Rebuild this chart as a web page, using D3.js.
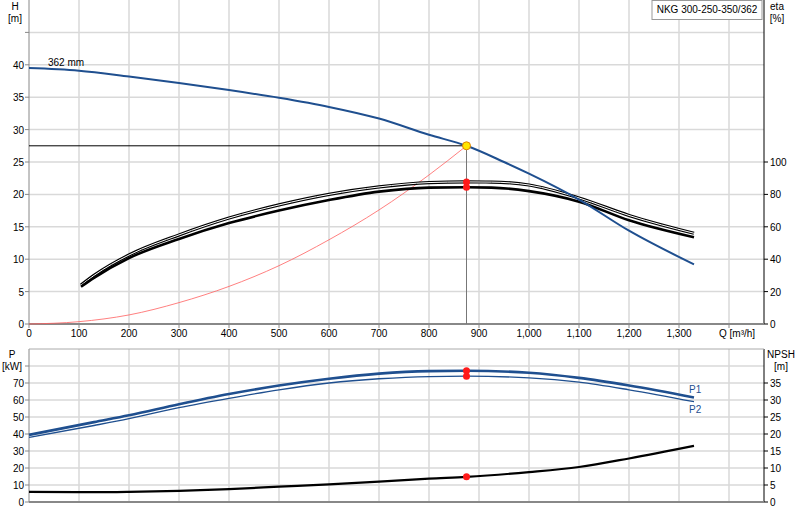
<!DOCTYPE html>
<html><head><meta charset="utf-8">
<script src="https://cdn.jsdelivr.net/npm/d3@7"></script>
<style>body{margin:0;background:#fff}text{font-family:"Liberation Sans",Arial,sans-serif;font-size:10px}</style>
</head><body><svg id="c" width="800" height="520"></svg>
<script>
// values
const headQ = [0, 100, 200, 300, 400, 500, 600, 700, 800, 875, 950, 1000, 1100, 1200, 1330];
const headH = [39.5, 39.1, 38.2, 37.2, 36.1, 34.9, 33.5, 31.7, 29.2, 27.5, 25.0, 23.2, 19.2, 14.4, 9.2];
const etaQ = [104, 130, 200, 300, 400, 500, 600, 700, 800, 875, 925, 1000, 1100, 1200, 1330];
const etaUpper = [24, 30, 42.6, 55, 65.4, 73.5, 80, 84.6, 87.3, 87.7, 87.6, 85.8, 77.8, 67, 56];
const etaLower = [23, 28.5, 40.7, 52.5, 62.3, 70, 76.5, 81.7, 84.2, 84.4, 84.2, 82, 75.5, 64, 53.5];
const sysQ = [0, 100, 200, 300, 400, 500, 600, 700, 800, 875];
const sysH = [0, 0.36, 1.4, 3.3, 5.8, 9.0, 13.0, 17.6, 23.0, 27.5];
const powQ = [0, 130, 200, 300, 400, 500, 600, 700, 800, 875, 1000, 1100, 1200, 1330];
const p1 = [39.5, 47, 51, 57.5, 63.5, 68.5, 72.5, 75.5, 77, 77.2, 76, 73, 68.5, 61.5];
const p2 = [38, 45, 49, 55.5, 61, 66, 70, 72.5, 73.8, 74, 73, 70.5, 66, 59];
const npshQ = [0, 130, 200, 300, 400, 500, 600, 700, 800, 875, 1000, 1100, 1200, 1330];
const npsh = [3, 2.9, 3.0, 3.3, 3.8, 4.5, 5.2, 6.0, 6.9, 7.4, 8.8, 10.3, 12.8, 16.5];
const qTicks = [0, 100, 200, 300, 400, 500, 600, 700, 800, 900, 1000, 1100, 1200, 1300, 1400];
const hGrid = [0, 5, 10, 15, 20, 25, 30, 35, 40, 45];
const hLabels = [0, 5, 10, 15, 20, 25, 30, 35, 40];
const etaTicks = [0, 20, 40, 60, 80, 100];
const pGrid = [0, 10, 20, 30, 40, 50, 60, 70, 80];
const pLabels = [0, 10, 20, 30, 40, 50, 60, 70];
const npshTicks = [0, 5, 10, 15, 20, 25, 30, 35];
const duty = { q: 875, h: 27.5 };

const blue = '#1f4f8f';
const grid = '#d9d9d9';
const svg = d3.select('#c');
const x = d3.scaleLinear().domain([0, 1470]).range([29, 764]);
const yH = d3.scaleLinear().domain([0, 50]).range([324, 0]);
const yEta = d3.scaleLinear().domain([0, 200]).range([324, 0]);
const yP = d3.scaleLinear().domain([0, 90]).range([502, 349]);
const yN = d3.scaleLinear().domain([0, 45]).range([502, 349]);
const fmt = d3.format(',');

const lineOf = (xs, ys, y) => d3.line().curve(d3.curveMonotoneX)
	.x((d, i) => x(xs[i])).y((d) => y(d))(ys);

const panel = (y, y2, gridTicks, labels, ticks2, top, bottom) => {
	const g = svg.append('g');
	g.selectAll('.vg').data(qTicks.slice(1)).join('line')
		.attr('x1', (d) => x(d)).attr('x2', (d) => x(d))
		.attr('y1', top).attr('y2', bottom).attr('stroke', grid).attr('stroke-width', 1.5);
	g.selectAll('.hg').data(gridTicks.slice(1)).join('line')
		.attr('x1', x.range()[0]).attr('x2', x.range()[1])
		.attr('y1', (d) => y(d)).attr('y2', (d) => y(d)).attr('stroke', grid).attr('stroke-width', 1.5);
	g.append('line').attr('x1', 29).attr('x2', 29).attr('y1', top).attr('y2', bottom).attr('stroke', '#888');
	g.append('line').attr('x1', 764).attr('x2', 764).attr('y1', top).attr('y2', bottom).attr('stroke', '#000');
	g.append('line').attr('x1', 29).attr('x2', 764).attr('y1', bottom).attr('y2', bottom).attr('stroke', '#888').attr('stroke-width', 2);
	if (top > 0) g.append('line').attr('x1', 29).attr('x2', 764).attr('y1', top).attr('y2', top).attr('stroke', '#aaa');
	g.selectAll('.lt').data(labels).join('text').attr('x', 24).attr('y', (d) => y(d) + 4)
		.attr('text-anchor', 'end').text((d) => d);
	g.selectAll('.ltk').data(gridTicks).join('line').attr('x1', 25).attr('x2', 29)
		.attr('y1', (d) => y(d)).attr('y2', (d) => y(d)).attr('stroke', '#888');
	g.selectAll('.rt').data(ticks2).join('text').attr('x', 770).attr('y', (d) => y2(d) + 4).text((d) => d);
	g.selectAll('.rtk').data(ticks2).join('line').attr('x1', 764).attr('x2', 768)
		.attr('y1', (d) => y2(d)).attr('y2', (d) => y2(d)).attr('stroke', '#000');
};

panel(yH, yEta, hGrid, hLabels, etaTicks, 0, 324);
panel(yP, yN, pGrid, pLabels, npshTicks, 349, 502);

svg.selectAll('.xt').data(qTicks.slice(0, -1)).join('text')
	.attr('x', (d) => x(d)).attr('y', 337).attr('text-anchor', 'middle').text((d) => fmt(d));
svg.selectAll('.xtk').data(qTicks).join('line').attr('x1', (d) => x(d)).attr('x2', (d) => x(d))
	.attr('y1', 324).attr('y2', 328).attr('stroke', '#888');
svg.append('text').attr('x', 719).attr('y', 337).text('Q [m³/h]');

// axis titles
[['H', 15, 10], ['[m]', 15, 22], ['eta', 777, 10], ['[%]', 777, 22],
	['P', 12, 358], ['[kW]', 12, 370], ['NPSH', 781, 358], ['[m]', 781, 370]]
	.forEach(([t, tx, ty]) => svg.append('text').attr('x', tx).attr('y', ty).attr('text-anchor', 'middle').text(t));

// title box
svg.append('rect').attr('x', 652).attr('y', 0.5).attr('width', 110).attr('height', 19)
	.attr('fill', '#fff').attr('stroke', '#999');
svg.append('text').attr('x', 707).attr('y', 13).attr('text-anchor', 'middle').text('NKG 300-250-350/362');

// duty lines
svg.append('line').attr('x1', x(0)).attr('x2', x(duty.q)).attr('y1', yH(duty.h)).attr('y2', yH(duty.h)).attr('stroke', '#000');
svg.append('line').attr('x1', x(duty.q)).attr('x2', x(duty.q)).attr('y1', yH(duty.h)).attr('y2', yH(0)).attr('stroke', '#777');

// system curve
svg.append('path').attr('d', lineOf(sysQ, sysH, yH)).attr('fill', 'none').attr('stroke', '#ff6060').attr('stroke-width', 0.8);

// efficiency curves
svg.append('path').attr('d', lineOf(etaQ, etaUpper, yEta)).attr('fill', 'none').attr('stroke', '#000').attr('stroke-width', 3.2);
svg.append('path').attr('d', lineOf(etaQ, etaUpper, yEta)).attr('fill', 'none').attr('stroke', '#fff').attr('stroke-width', 1);
svg.append('path').attr('d', lineOf(etaQ, etaLower, yEta)).attr('fill', 'none').attr('stroke', '#000').attr('stroke-width', 2.6);

// head curve
svg.append('path').attr('d', lineOf(headQ, headH, yH)).attr('fill', 'none').attr('stroke', blue).attr('stroke-width', 2);
svg.append('text').attr('x', 48).attr('y', 66).text('362 mm');

// power curves
svg.append('path').attr('d', lineOf(powQ, p1, yP)).attr('fill', 'none').attr('stroke', blue).attr('stroke-width', 2.6);
svg.append('path').attr('d', lineOf(powQ, p2, yP)).attr('fill', 'none').attr('stroke', blue).attr('stroke-width', 1.3);
svg.append('text').attr('x', 689).attr('y', 393).attr('fill', blue).text('P1');
svg.append('text').attr('x', 689).attr('y', 413).attr('fill', blue).text('P2');

// npsh
svg.append('path').attr('d', lineOf(npshQ, npsh, yN)).attr('fill', 'none').attr('stroke', '#000').attr('stroke-width', 2.2);

// duty markers
const reds = [[duty.q, yEta(etaUpper[9])], [duty.q, yEta(etaLower[9])],
	[duty.q, yP(p1[9])], [duty.q, yP(p2[9])], [duty.q, yN(npsh[9])]];
svg.selectAll('.rd').data(reds).join('circle').attr('cx', (d) => x(d[0])).attr('cy', (d) => d[1])
	.attr('r', 3.5).attr('fill', '#ff1a1a');
svg.append('circle').attr('cx', x(duty.q)).attr('cy', yH(duty.h)).attr('r', 4)
	.attr('fill', '#ffe600').attr('stroke', '#e08000');
</script></body></html>
